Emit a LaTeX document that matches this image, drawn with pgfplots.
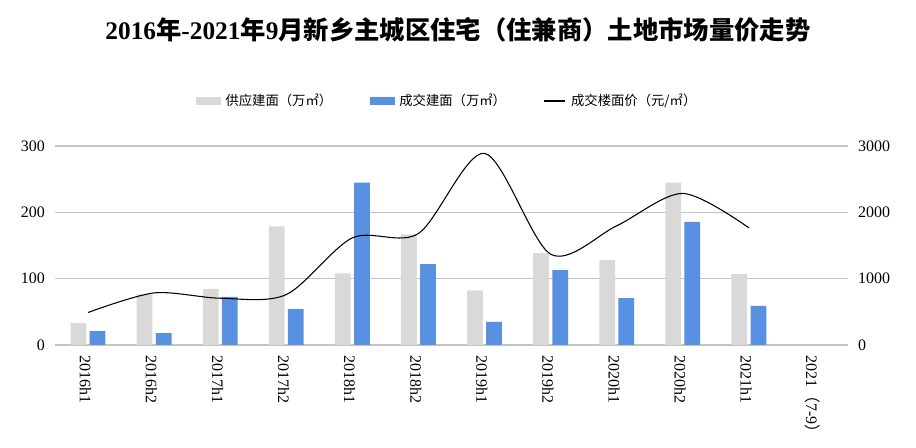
\documentclass[border=0pt]{standalone}
\usepackage{fontspec}
\setmainfont{Liberation Serif}
\newfontfamily\cjk{Noto Sans CJK SC}
\usepackage{pgfplots}
\pgfplotsset{compat=1.18}
\definecolor{barGray}{RGB}{217,217,217}
\definecolor{barBlue}{RGB}{88,144,226}
\definecolor{gridGray}{RGB}{196,196,196}
\begin{document}
\begin{tikzpicture}
\pgfplotsset{
  common/.style={
    at={(0pt,0pt)}, anchor=south west,
    scale only axis, width=594.75pt, height=149.25pt,
    xmin=-0.5, xmax=11.5,
    axis line style={draw=none}, tick style={draw=none},
    /pgf/number format/assume math mode=true,
    /pgf/number format/1000 sep={},
    ticklabel style={font=\fontsize{12}{14}\selectfont},
  }
}
\begin{axis}[common,
  ymin=0, ymax=300,
  axis x line*=bottom, axis y line*=left,
  ybar=2.5pt, bar width=11.8pt,
  xtick={0,...,11},
  xticklabels={2016h1,2016h2,2017h1,2017h2,2018h1,2018h2,2019h1,2019h2,2020h1,2020h2,2021h1,{2021{\cjk（}7-9{\cjk）}}},
  xticklabel style={rotate=-90, anchor=west, xshift=0pt, yshift=-2pt},
  ytick={0,100,200,300},
  yticklabel style={xshift=-4pt},
  ymajorgrids, grid style={gridGray, line width=0.8pt},
]
\addplot[fill=barGray, draw=none] coordinates {
 (0,33) (1,76.5) (2,84.5) (3,179) (4,108) (5,166.6) (6,82.5) (7,138.4) (8,128) (9,244.6) (10,107)
};
\addplot[fill=barBlue, draw=none] coordinates {
 (0,21) (1,18) (2,72.5) (3,54) (4,244.6) (5,122) (6,34.7) (7,113) (8,70.5) (9,185.7) (10,59)
};
\end{axis}
\begin{axis}[common,
  ymin=0, ymax=3000,
  axis y line*=right, axis x line=none,
  ytick={0,1000,2000,3000},
  yticklabel style={xshift=4pt},
  legend columns=3,
  legend style={at={(0.172,1.226)}, anchor=west, draw=none, fill=none,
    font=\cjk\fontsize{10}{12}\selectfont,
    /tikz/every even column/.append style={column sep=26pt},
    nodes={inner sep=2pt}},
]
\addlegendimage{legend image code/.code={\fill[barGray] (0pt,-2.6pt) rectangle (18pt,2.6pt);}}
\addlegendentry{\hspace{2pt}供应建面（万㎡）}
\addlegendimage{legend image code/.code={\fill[barBlue] (0pt,-2.6pt) rectangle (18pt,2.6pt);}}
\addlegendentry{\hspace{2pt}成交建面（万㎡）}
\addplot[black, line width=0.8pt, smooth,
  legend image code/.code={\draw[black,line width=0.8pt] (0pt,0pt) -- (16pt,0pt);}] coordinates {
 (0,490) (1,785) (2,705) (3,760) (4,1615) (5,1681) (6,2889) (7,1369) (8,1797) (9,2285) (10,1766)
};
\addlegendentry{\hspace{2pt}成交楼面价（元/㎡）}
\end{axis}
\node[anchor=center, inner sep=0pt] at (302.25pt,236.25pt)
  {\fontsize{19}{22}\selectfont{\bfseries 2016}{\cjk\bfseries 年}{\bfseries -2021}{\cjk\bfseries 年}{\bfseries 9}{\cjk\bfseries 月新乡主城区住宅（住兼商）土地市场量价走势}};
\pgfresetboundingbox
\path[use as bounding box] (-41.25pt,-77.25pt) rectangle (645.75pt,258.75pt);
\end{tikzpicture}
\end{document}
